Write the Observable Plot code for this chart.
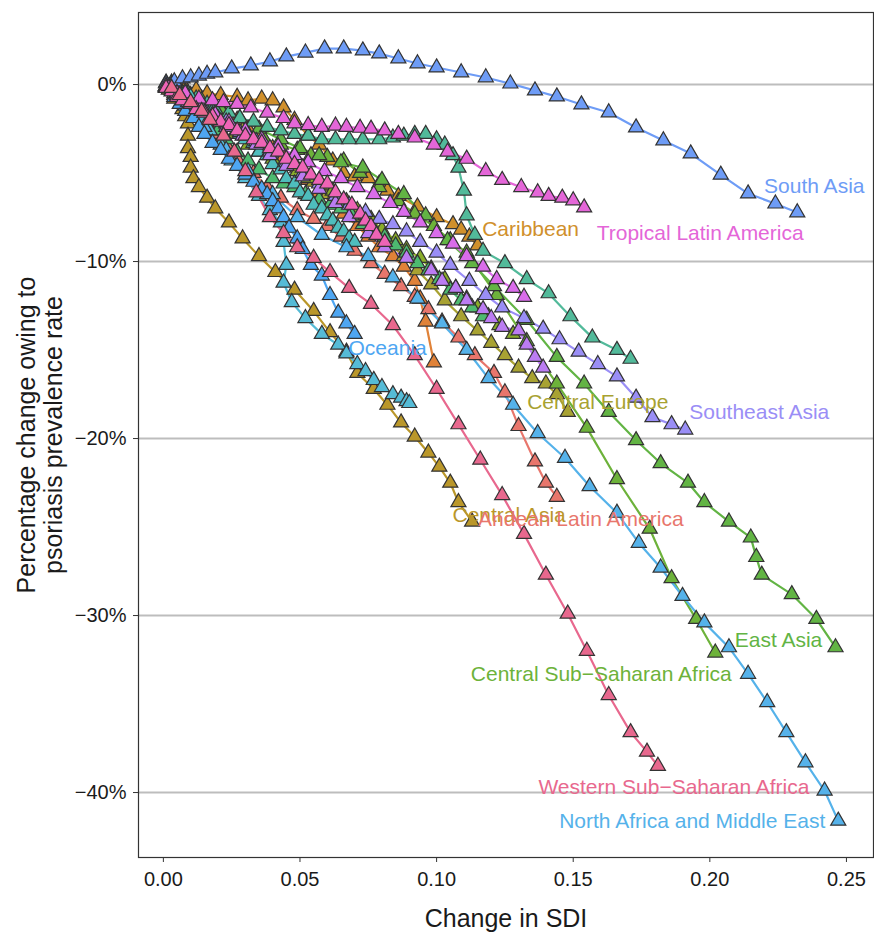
<!DOCTYPE html>
<html><head><meta charset="utf-8">
<script src="https://cdn.jsdelivr.net/npm/d3@7"></script>
<script src="https://cdn.jsdelivr.net/npm/@observablehq/plot@0.6"></script>
<style>body{margin:0;background:#fff}</style>
</head><body><div id="chart"></div>
<script>
const regions = ["Andean Latin America","Australasia","Caribbean","Central Asia","Central Europe","Central Latin America","Central Sub-Saharan Africa","East Asia","Eastern Europe","Eastern Sub-Saharan Africa","High-income Asia Pacific","High-income North America","North Africa and Middle East","Oceania","South Asia","Southeast Asia","Southern Latin America","Southern Sub-Saharan Africa","Tropical Latin America","Western Europe","Western Sub-Saharan Africa"];
const colors = ["#E8766C","#E08238","#D0902C","#BA972A","#A8A232","#8AAD2A","#6DB23A","#62B444","#4DBA70","#52BA9A","#4EBDBD","#55BBD6","#55B2EA","#4EA6F2","#6E9CF6","#9A8EF6","#BB7CF2","#D96CEA","#E466D8","#EE64B6","#E8688E"];
const xTicks = [0, 0.05, 0.10, 0.15, 0.20, 0.25];
const yTicks = [0, -10, -20, -30, -40];

// [change in SDI, percentage change]
const andeanLatinAmerica = [[0.002,-0.2],[0.004,-0.6],[0.007,-1.1],[0.011,-1.6],[0.014,-2.1],[0.018,-2.8],[0.023,-3.4],[0.027,-4.2],[0.033,-5.0],[0.038,-5.8],[0.043,-6.4],[0.049,-7.1],[0.055,-7.6],[0.060,-8.0],[0.065,-8.6],[0.070,-9.4],[0.076,-10.1],[0.081,-10.7],[0.087,-11.4],[0.092,-12.0],[0.097,-12.7],[0.102,-13.4],[0.108,-14.3],[0.114,-15.3],[0.121,-16.3],[0.125,-17.4],[0.130,-19.3],[0.136,-21.3],[0.140,-22.5],[0.144,-23.3]];
const australasia = [[0.001,-0.1],[0.003,-0.2],[0.006,-0.3],[0.010,-0.6],[0.014,-0.8],[0.018,-1.2],[0.022,-1.6],[0.027,-2.0],[0.031,-2.5],[0.035,-3.0],[0.040,-3.6],[0.044,-4.1],[0.049,-4.7],[0.053,-5.4],[0.057,-6.1],[0.062,-6.7],[0.066,-7.3],[0.071,-8.0],[0.075,-8.6],[0.079,-9.2],[0.084,-9.7],[0.088,-10.3],[0.092,-11.1],[0.094,-12.1],[0.096,-13.4],[0.099,-15.7]];
const caribbean = [[0.001,-0.1],[0.004,-0.1],[0.008,-0.2],[0.012,-0.3],[0.016,-0.5],[0.021,-0.6],[0.027,-0.7],[0.031,-0.9],[0.036,-0.8],[0.040,-0.9],[0.044,-1.3],[0.048,-2.0],[0.053,-2.9],[0.057,-3.4],[0.062,-4.3],[0.066,-5.0],[0.070,-5.2],[0.075,-5.3],[0.079,-5.6],[0.082,-6.0],[0.086,-6.3],[0.093,-6.9],[0.100,-7.5],[0.106,-7.9],[0.109,-8.2],[0.112,-8.6],[0.115,-9.1]];
const centralAsia = [[0.002,-0.3],[0.004,-0.8],[0.007,-1.4],[0.008,-1.8],[0.009,-2.2],[0.009,-2.9],[0.009,-3.6],[0.010,-4.1],[0.010,-4.7],[0.011,-5.3],[0.013,-5.8],[0.016,-6.4],[0.019,-7.0],[0.024,-7.8],[0.029,-8.7],[0.035,-9.7],[0.041,-10.6],[0.048,-11.6],[0.055,-12.8],[0.061,-14.0],[0.067,-15.1],[0.071,-16.3],[0.077,-17.2],[0.082,-18.1],[0.087,-19.1],[0.092,-19.9],[0.097,-20.8],[0.101,-21.6],[0.105,-22.5],[0.108,-23.6],[0.113,-24.7]];
const centralEurope = [[0.001,-0.1],[0.005,-0.4],[0.009,-0.7],[0.014,-1.1],[0.019,-1.6],[0.024,-2.1],[0.029,-2.6],[0.034,-3.2],[0.039,-3.7],[0.045,-4.3],[0.050,-4.9],[0.055,-5.5],[0.060,-6.2],[0.066,-6.8],[0.071,-7.5],[0.077,-8.2],[0.082,-8.9],[0.088,-9.7],[0.093,-10.5],[0.098,-11.3],[0.103,-12.2],[0.109,-13.1],[0.115,-13.9],[0.120,-14.6],[0.125,-15.3],[0.130,-16.0],[0.135,-16.6],[0.140,-16.9],[0.144,-17.5],[0.148,-18.5]];
const centralLatinAmerica = [[0.001,-0.1],[0.005,-0.5],[0.009,-0.9],[0.013,-1.3],[0.017,-1.9],[0.022,-2.4],[0.026,-2.8],[0.031,-3.4],[0.035,-3.8],[0.040,-4.2],[0.044,-4.5],[0.049,-4.9],[0.053,-5.3],[0.058,-5.7],[0.062,-6.0],[0.067,-6.6],[0.071,-7.1],[0.076,-7.6],[0.080,-8.2],[0.085,-8.8],[0.089,-9.3],[0.094,-9.8],[0.098,-10.4],[0.103,-11.0],[0.107,-11.5],[0.111,-12.1],[0.115,-12.6],[0.119,-13.1],[0.123,-13.6],[0.128,-14.1]];
const centralSubSaharanAfrica = [[0.001,-0.2],[0.005,-0.6],[0.010,-1.0],[0.015,-1.5],[0.020,-1.9],[0.025,-2.4],[0.031,-2.8],[0.037,-3.1],[0.043,-3.4],[0.049,-3.7],[0.054,-4.0],[0.060,-4.1],[0.066,-4.3],[0.072,-5.0],[0.079,-5.8],[0.086,-6.6],[0.092,-7.3],[0.099,-8.0],[0.105,-8.8],[0.111,-9.5],[0.122,-11.9],[0.133,-14.5],[0.144,-16.9],[0.155,-19.4],[0.166,-22.3],[0.178,-25.1],[0.186,-27.9],[0.195,-30.2],[0.202,-32.1]];
const eastAsia = [[0.001,-0.1],[0.007,-0.5],[0.014,-0.9],[0.021,-1.4],[0.028,-1.9],[0.035,-2.5],[0.043,-3.1],[0.050,-3.6],[0.057,-4.0],[0.065,-4.4],[0.073,-4.7],[0.080,-5.4],[0.088,-6.2],[0.096,-7.4],[0.104,-8.8],[0.113,-10.1],[0.121,-11.4],[0.133,-13.3],[0.144,-15.4],[0.154,-16.9],[0.163,-18.5],[0.173,-20.1],[0.182,-21.4],[0.192,-22.5],[0.198,-23.6],[0.207,-24.7],[0.215,-25.6],[0.217,-26.7],[0.219,-27.7],[0.230,-28.8],[0.239,-30.2],[0.246,-31.8]];
const easternEurope = [[0.001,-0.1],[0.004,-0.5],[0.008,-0.9],[0.012,-1.4],[0.016,-2.0],[0.020,-2.6],[0.023,-3.1],[0.027,-3.8],[0.031,-4.3],[0.035,-4.8],[0.040,-5.3],[0.044,-5.6],[0.048,-5.8],[0.052,-6.2],[0.057,-6.5],[0.061,-6.8],[0.065,-7.0],[0.069,-7.4],[0.073,-7.9],[0.077,-8.2],[0.081,-8.6],[0.085,-9.1],[0.089,-9.5],[0.093,-10.1],[0.097,-10.5],[0.101,-11.0],[0.105,-11.6],[0.109,-12.2],[0.113,-12.6],[0.117,-13.1]];
const easternSubSaharanAfrica = [[0.003,0.1],[0.005,-0.2],[0.009,-0.5],[0.012,-0.8],[0.016,-1.1],[0.019,-1.4],[0.024,-1.6],[0.028,-1.9],[0.033,-2.1],[0.038,-2.4],[0.043,-2.6],[0.048,-2.8],[0.053,-2.9],[0.058,-3.1],[0.063,-3.1],[0.068,-3.1],[0.073,-3.1],[0.079,-3.1],[0.084,-3.0],[0.088,-2.9],[0.092,-2.8],[0.096,-2.8],[0.100,-3.1],[0.103,-3.4],[0.106,-4.0],[0.108,-4.7],[0.110,-6.0],[0.111,-7.4],[0.114,-8.5],[0.117,-9.4],[0.125,-10.1],[0.133,-11.0],[0.141,-11.8],[0.149,-13.1],[0.157,-14.3],[0.166,-15.0],[0.171,-15.5]];
const highIncomeAsiaPacific = [[0.001,0.1],[0.003,0.0],[0.005,-0.2],[0.008,-0.4],[0.010,-0.7],[0.013,-0.9],[0.015,-1.3],[0.018,-1.5],[0.020,-1.9],[0.023,-2.2],[0.025,-2.4],[0.028,-2.8],[0.030,-3.1],[0.033,-3.3],[0.035,-3.8],[0.038,-4.0],[0.040,-4.5],[0.043,-4.8],[0.045,-5.3],[0.048,-5.6],[0.050,-6.1],[0.053,-6.3],[0.055,-6.8],[0.058,-7.0],[0.060,-7.4],[0.062,-7.7],[0.064,-8.1],[0.066,-8.3],[0.068,-8.7],[0.070,-8.9]];
const highIncomeNorthAmerica = [[0.001,-0.1],[0.003,-0.2],[0.005,-0.5],[0.008,-0.9],[0.011,-1.4],[0.014,-1.9],[0.017,-2.6],[0.021,-3.4],[0.025,-4.3],[0.030,-5.3],[0.035,-6.3],[0.039,-7.1],[0.043,-7.8],[0.044,-8.9],[0.045,-10.2],[0.044,-11.2],[0.047,-12.3],[0.052,-13.2],[0.058,-14.1],[0.064,-14.7],[0.067,-15.2],[0.071,-15.8],[0.074,-16.2],[0.077,-16.7],[0.080,-17.1],[0.084,-17.5],[0.087,-17.7],[0.089,-17.9],[0.090,-18.0]];
const northAfricaMiddleEast = [[0.001,-0.2],[0.008,-1.2],[0.015,-2.4],[0.023,-3.7],[0.031,-4.9],[0.040,-6.2],[0.049,-7.5],[0.058,-8.5],[0.067,-9.2],[0.075,-9.7],[0.084,-10.9],[0.093,-12.1],[0.102,-13.5],[0.111,-15.0],[0.119,-16.6],[0.128,-18.1],[0.137,-19.7],[0.147,-21.1],[0.156,-22.7],[0.166,-24.2],[0.174,-25.9],[0.182,-27.3],[0.190,-28.9],[0.198,-30.4],[0.207,-31.8],[0.214,-33.3],[0.221,-34.9],[0.228,-36.6],[0.235,-38.3],[0.242,-39.9],[0.247,-41.6]];
const oceania = [[0.001,-0.1],[0.003,-0.3],[0.004,-0.7],[0.006,-1.1],[0.008,-1.5],[0.011,-1.9],[0.013,-2.4],[0.015,-2.8],[0.018,-3.3],[0.021,-3.7],[0.024,-4.2],[0.027,-4.6],[0.030,-5.1],[0.033,-5.5],[0.036,-5.9],[0.038,-6.2],[0.040,-6.6],[0.042,-7.0],[0.044,-7.5],[0.046,-8.1],[0.049,-8.7],[0.051,-9.3],[0.054,-10.2],[0.058,-10.8],[0.061,-11.9],[0.064,-12.9],[0.067,-13.5],[0.070,-14.1]];
const southAsia = [[0.001,0.05],[0.004,0.17],[0.007,0.34],[0.010,0.4],[0.013,0.5],[0.016,0.6],[0.019,0.68],[0.025,0.9],[0.032,1.07],[0.039,1.3],[0.045,1.58],[0.052,1.8],[0.059,2.03],[0.066,2.03],[0.073,1.92],[0.079,1.75],[0.086,1.47],[0.093,1.19],[0.100,0.96],[0.109,0.68],[0.118,0.4],[0.127,0.05],[0.136,-0.34],[0.144,-0.68],[0.153,-1.13],[0.163,-1.58],[0.173,-2.43],[0.183,-3.16],[0.193,-3.9],[0.204,-5.1],[0.214,-6.16],[0.224,-6.73],[0.232,-7.23]];
const southeastAsia = [[0.001,-0.1],[0.005,-0.5],[0.009,-0.8],[0.013,-1.2],[0.018,-1.7],[0.023,-2.1],[0.028,-2.7],[0.034,-3.2],[0.039,-3.8],[0.045,-4.4],[0.051,-5.0],[0.057,-5.6],[0.063,-6.3],[0.068,-6.8],[0.074,-7.2],[0.079,-7.6],[0.084,-7.9],[0.089,-8.3],[0.094,-8.9],[0.100,-9.5],[0.105,-10.2],[0.112,-11.1],[0.118,-11.9],[0.124,-12.6],[0.132,-13.2],[0.139,-13.8],[0.145,-14.4],[0.152,-15.1],[0.159,-15.8],[0.166,-16.5],[0.173,-17.7],[0.179,-18.8],[0.186,-19.2],[0.191,-19.5]];
const southernLatinAmerica = [[0.001,-0.2],[0.005,-0.6],[0.009,-1.0],[0.013,-1.4],[0.018,-1.9],[0.023,-2.4],[0.029,-2.9],[0.034,-3.4],[0.039,-4.0],[0.045,-4.6],[0.051,-5.2],[0.057,-5.9],[0.063,-6.7],[0.068,-7.5],[0.075,-8.4],[0.081,-9.2],[0.089,-9.8],[0.098,-10.5],[0.102,-11.1],[0.107,-11.5],[0.111,-12.2],[0.117,-12.7],[0.120,-13.2],[0.124,-13.7],[0.130,-13.9],[0.133,-14.7],[0.136,-15.4],[0.139,-16.0]];
const southernSubSaharanAfrica = [[0.001,-0.1],[0.005,-0.5],[0.009,-0.8],[0.014,-1.2],[0.019,-1.7],[0.024,-2.1],[0.030,-2.6],[0.036,-3.1],[0.042,-3.5],[0.048,-4.0],[0.053,-4.4],[0.059,-4.9],[0.065,-5.3],[0.071,-5.8],[0.077,-6.2],[0.083,-6.7],[0.088,-7.2],[0.094,-7.8],[0.100,-8.4],[0.106,-9.0],[0.111,-9.7],[0.117,-10.3],[0.122,-11.0],[0.128,-11.5],[0.132,-12.0]];
const tropicalLatinAmerica = [[0.002,-0.2],[0.008,-0.5],[0.013,-0.8],[0.018,-0.9],[0.022,-1.0],[0.027,-1.1],[0.032,-1.3],[0.038,-1.6],[0.044,-1.9],[0.048,-2.2],[0.053,-2.3],[0.058,-2.4],[0.063,-2.33],[0.067,-2.4],[0.072,-2.45],[0.076,-2.5],[0.081,-2.6],[0.086,-2.8],[0.092,-3.0],[0.099,-3.4],[0.104,-3.8],[0.111,-4.2],[0.118,-4.9],[0.124,-5.4],[0.131,-5.8],[0.137,-6.1],[0.141,-6.3],[0.146,-6.4],[0.150,-6.55],[0.154,-6.95]];
const westernEurope = [[0.001,-0.2],[0.003,-0.4],[0.005,-0.7],[0.007,-0.9],[0.010,-1.1],[0.012,-1.4],[0.015,-1.6],[0.018,-1.8],[0.021,-2.1],[0.024,-2.3],[0.027,-2.6],[0.030,-2.9],[0.033,-3.1],[0.036,-3.3],[0.039,-3.6],[0.042,-3.8],[0.045,-4.2],[0.048,-4.5],[0.051,-4.7],[0.054,-5.1],[0.057,-5.4],[0.060,-5.6],[0.063,-6.1],[0.066,-6.5],[0.069,-6.8],[0.072,-7.3],[0.074,-7.7],[0.076,-8.0],[0.078,-8.5],[0.081,-8.9]];
const westernSubSaharanAfrica = [[0.003,-0.2],[0.006,-0.6],[0.010,-1.0],[0.014,-1.5],[0.017,-2.0],[0.022,-2.9],[0.026,-3.8],[0.030,-4.9],[0.034,-6.1],[0.039,-7.5],[0.044,-8.4],[0.049,-9.2],[0.055,-9.8],[0.061,-10.6],[0.068,-11.5],[0.076,-12.4],[0.084,-13.6],[0.092,-15.3],[0.100,-17.2],[0.108,-19.2],[0.116,-21.2],[0.124,-23.2],[0.132,-25.4],[0.140,-27.7],[0.148,-29.9],[0.155,-32.0],[0.163,-34.5],[0.171,-36.6],[0.177,-37.7],[0.181,-38.5]];

const seriesValues = [andeanLatinAmerica, australasia, caribbean, centralAsia, centralEurope, centralLatinAmerica, centralSubSaharanAfrica, eastAsia, easternEurope, easternSubSaharanAfrica, highIncomeAsiaPacific, highIncomeNorthAmerica, northAfricaMiddleEast, oceania, southAsia, southeastAsia, southernLatinAmerica, southernSubSaharanAfrica, tropicalLatinAmerica, westernEurope, westernSubSaharanAfrica];

// labels drawn next to the last point of a series (offsets in px)
const labelled = [
  ["South Asia", 17, -26], ["Tropical Latin America", 116, 26], ["Caribbean", 53, -16],
  ["Oceania", 33, 14], ["Central Europe", 30, -10], ["Southeast Asia", 74, -17],
  ["Central Asia", 37, -6], ["Andean Latin America", 24, 22], ["East Asia", -57, -7],
  ["Central Sub-Saharan Africa", -114, 22], ["Western Sub-Saharan Africa", 16, 21],
  ["North Africa and Middle East", -146, 0]
];

const rows = regions.flatMap((region, i) => seriesValues[i].map(([sdi, pct]) => ({region, sdi, pct})));
const lastPoint = name => { const s = seriesValues[regions.indexOf(name)]; const [sdi, pct] = s[s.length - 1]; return {region: name, sdi, pct}; };

const font = "'Liberation Sans', Arial, Helvetica, sans-serif";
const fmtPct = d => (d < 0 ? "\u2212" : "") + Math.abs(d) + "%";

const chart = Plot.plot({
  width: 874, height: 936,
  marginLeft: 138, marginRight: 1, marginTop: 12, marginBottom: 79,
  style: {fontFamily: font, background: "#fff", color: "#1a1a1a"},
  x: {domain: [-0.0091, 0.2599]},
  y: {domain: [-43.67, 4.07]},
  color: {domain: regions, range: colors},
  marks: [
    Plot.gridY(yTicks, {stroke: "#bdbdbd", strokeOpacity: 1, strokeWidth: 2}),
    Plot.line(rows, {x: "sdi", y: "pct", z: "region", stroke: "region", strokeWidth: 2.2}),
    Plot.dot(rows, {x: "sdi", y: "pct", fill: "region", symbol: "triangle", r: 5.6, stroke: "#333", strokeWidth: 1.2}),
    ...labelled.map(([name, dx, dy]) => Plot.text([lastPoint(name)], {
      x: "sdi", y: "pct", text: d => d.region.replace("Sub-Saharan", "Sub\u2212Saharan"),
      fill: "region", dx, dy, fontSize: 21
    })),
    Plot.frame({stroke: "#333", strokeWidth: 1.2}),
    Plot.axisY(yTicks, {tickSize: 5, tickPadding: 7, tickFormat: fmtPct, fontSize: 20, label: null, stroke: "#333"}),
    Plot.axisX(xTicks, {tickSize: 5, tickPadding: 9, tickFormat: d3.format(".2f"), fontSize: 20, label: null, stroke: "#333"}),
    Plot.text(["Change in SDI"], {frameAnchor: "bottom", dy: 69, text: d => d, fontSize: 25}),
    Plot.text(["Percentage change owing to\npsoriasis prevalence rate"], {frameAnchor: "left", dx: -99, rotate: -90, textAnchor: "middle", text: d => d, fontSize: 25, lineHeight: 1.1})
  ]
});
document.getElementById("chart").appendChild(chart);
</script>
</body></html>
